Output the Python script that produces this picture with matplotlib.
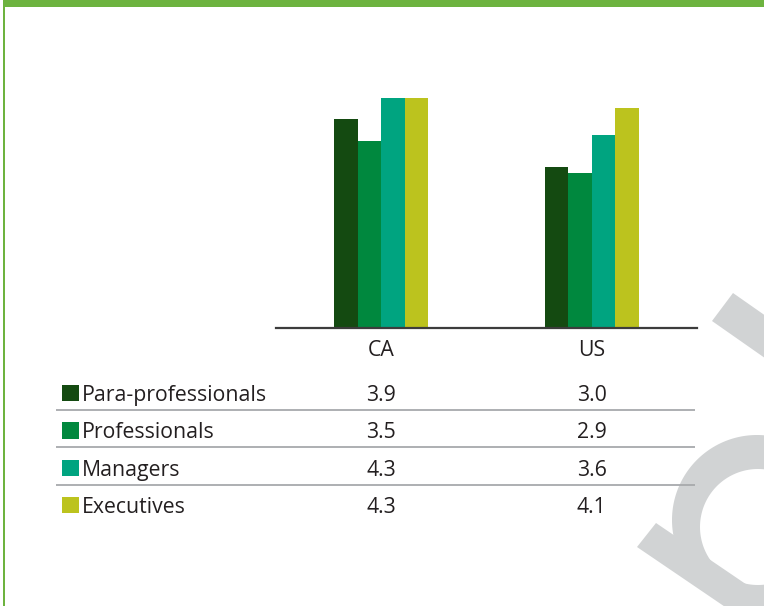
import numpy as np
import matplotlib
matplotlib.use("Agg")
import matplotlib.pyplot as plt
import matplotlib.patches as mpatches
from matplotlib.path import Path

# data
regions = ["CA", "US"]
groups = ["Para-professionals", "Professionals", "Managers", "Executives"]
ca_values = [3.9, 3.5, 4.3, 4.3]
us_values = [3.0, 2.9, 3.6, 4.1]
colors = ["#144a11", "#00883e", "#00a480", "#bcc31e"]

W, H = 764, 606
plt.rcParams['font.family'] = ['Open Sans', 'DejaVu Sans']
fig = plt.figure(figsize=(W / 100, H / 100), dpi=100)

# bar chart, placed in pixel terms
ax_left, ax_right, ax_base, ax_top = 276, 697, 328, 87
ax = fig.add_axes([ax_left / W, 1 - ax_base / H, (ax_right - ax_left) / W, (ax_base - ax_top) / H])
x = np.arange(len(regions))
bar_w = 0.112
values = np.array([ca_values, us_values]).T
for i, g in enumerate(groups):
    ax.bar(x + (i - 1.5) * bar_w, values[i], width=bar_w, color=colors[i], label=g, zorder=2)
ax.set_xlim(-0.5, 1.5)
ax.set_ylim(0, 4.5)
for s in ["top", "right", "left"]:
    ax.spines[s].set_visible(False)
ax.spines["bottom"].set_color("#3c3c3c")
ax.spines["bottom"].set_linewidth(1.6)
ax.set_xticks([])
ax.set_yticks([])
ax.patch.set_alpha(0)

# overlay in pixel coordinates for frame, table and decoration
ov = fig.add_axes([0, 0, 1, 1], zorder=3)
ov.set_xlim(0, W)
ov.set_ylim(H, 0)
ov.axis("off")
ov.patch.set_alpha(0)

frame_green = "#6db33f"
ov.add_patch(mpatches.Rectangle((3, 0), W - 3, 7.3, color=frame_green, lw=0))
ov.add_patch(mpatches.Rectangle((3, 0), 2, H, color=frame_green, lw=0))

text_col = "#231f20"
fs = 15.3
col_x = [ax_left + (ax_right - ax_left) * (xi + 0.5) / 2.0 for xi in x]
for cx, r in zip(col_x, regions):
    ov.text(cx, 356, r, ha="center", va="baseline", fontsize=fs, color=text_col)

row_base = [401, 438.5, 476, 513]
for i, g in enumerate(groups):
    yb = row_base[i]
    ov.add_patch(mpatches.Rectangle((62, yb - 16.5), 16.5, 16.5, color=colors[i], lw=0))
    ov.text(82, yb, g, ha="left", va="baseline", fontsize=fs, color=text_col)
    ov.text(col_x[0], yb, f"{ca_values[i]:.1f}", ha="center", va="baseline", fontsize=fs, color=text_col)
    ov.text(col_x[1], yb, f"{us_values[i]:.1f}", ha="center", va="baseline", fontsize=fs, color=text_col)
    if i < len(groups) - 1:
        ly = (yb + row_base[i + 1]) / 2 - 10
        ov.plot([56, 695], [ly, ly], color="#a7a9ac", lw=1.3, solid_capstyle="butt")

# grey watermark shape on the right
grey = "#d1d3d4"
ov.add_patch(mpatches.Polygon([(733, 293), (712, 321), (812, 391), (833, 363)], closed=True, color=grey, lw=0))
ov.add_patch(mpatches.Polygon([(656, 523), (637, 547), (787, 649), (806, 625)], closed=True, color=grey, lw=0))
t = np.linspace(0, 2 * np.pi, 200)
outer_pts = np.column_stack([757 + 85 * np.cos(t), 520 + 85 * np.sin(t)])
inner_pts = np.column_stack([758 + 58 * np.cos(t[::-1]), 527 + 58 * np.sin(t[::-1])])
ring = Path.make_compound_path(Path(outer_pts, closed=True), Path(inner_pts, closed=True))
ov.add_patch(mpatches.PathPatch(ring, color=grey, lw=0))

fig.savefig("out.png", dpi=100)
